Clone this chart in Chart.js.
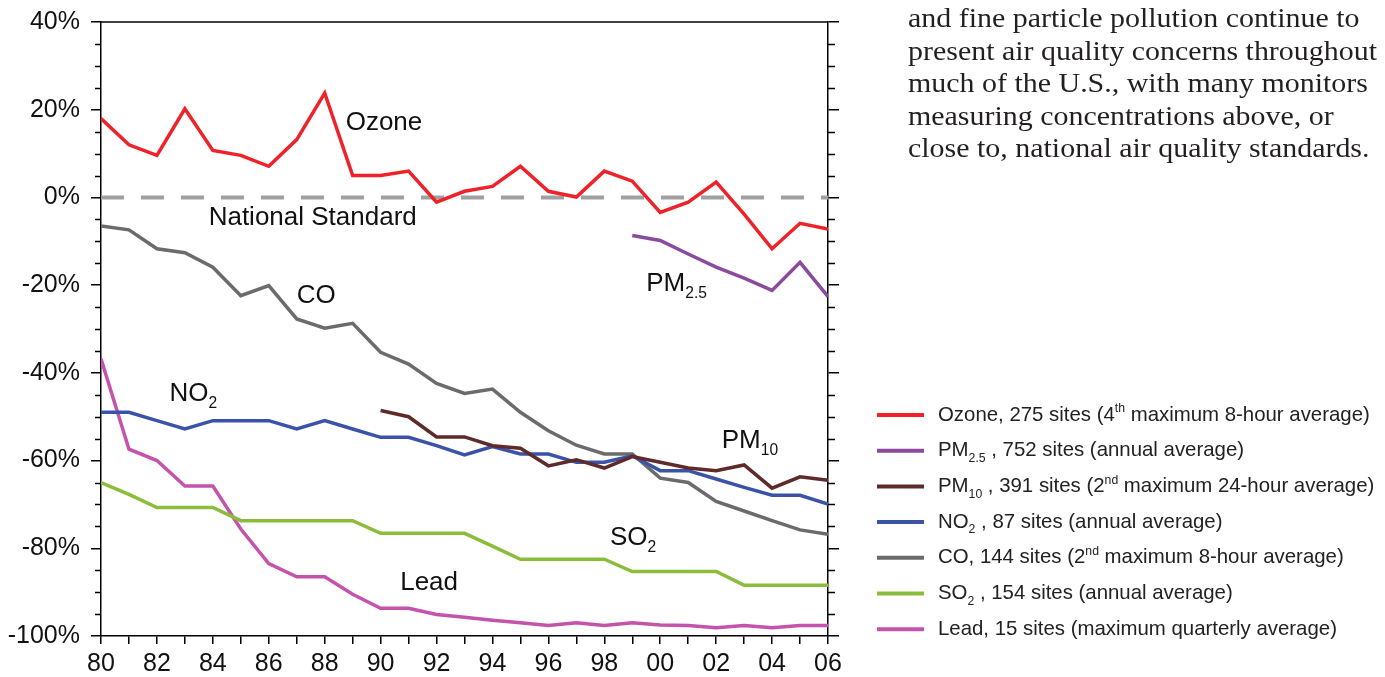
<!DOCTYPE html>
<html>
<head>
<meta charset="utf-8">
<script src="https://cdn.jsdelivr.net/npm/chart.js@4.4.1/dist/chart.umd.min.js"></script>
<style>
html, body { margin: 0; padding: 0; background: #fff; overflow: hidden; }
#wrap { position: relative; width: 1385px; height: 677px; }
#para { position: absolute; left: 908px; top: 2px; font-family: "Liberation Serif", serif; font-size: 27px; line-height: 32.5px; color: #231f20; white-space: nowrap; transform-origin: 0 0; }
</style>
</head>
<body>
<div id="wrap">
  <canvas id="airChart"></canvas>
  <div id="para">
    and fine particle pollution continue to<br>
    present air quality concerns throughout<br>
    much of the U.S., with many monitors<br>
    measuring concentrations above, or<br>
    close to, national air quality standards.
  </div>
</div>
<script>
// годы 1980-2006, значения в % относительно национального стандарта
const years = [1980, 1981, 1982, 1983, 1984, 1985, 1986, 1987, 1988, 1989, 1990, 1991, 1992, 1993,
               1994, 1995, 1996, 1997, 1998, 1999, 2000, 2001, 2002, 2003, 2004, 2005, 2006];

const ozone = [18.0, 12.0, 9.6, 20.2, 10.7, 9.6, 7.1, 13.2, 23.8, 5.0, 5.0, 6.0, -1.1, 1.4,
               2.5, 7.1, 1.4, 0.1, 6.0, 3.7, -3.4, -1.1, 3.5, -3.8, -11.7, -5.9, -7.2];
const pm25 = [null, null, null, null, null, null, null, null, null, null, null, null, null, null,
              null, null, null, null, null, -8.7, -9.8, -12.9, -15.9, -18.4, -21.2, -14.8, -22.6];
const pm10 = [null, null, null, null, null, null, null, null, null, null, -48.6, -50.0, -54.6, -54.6,
              -56.6, -57.2, -61.2, -59.8, -61.7, -59.1, -60.4, -61.7, -62.3, -61.0, -66.3, -63.7, -64.5];
const no2 = [-49.0, -49.0, -50.9, -52.8, -50.9, -50.9, -50.9, -52.8, -50.9, -52.8, -54.7, -54.7, -56.6, -58.7,
             -56.8, -58.5, -58.5, -60.4, -60.4, -58.9, -62.3, -62.3, -64.2, -66.1, -67.9, -67.9, -69.9];
const co = [-6.5, -7.4, -11.7, -12.6, -15.9, -22.4, -20.1, -27.7, -29.8, -28.7, -35.3, -38.0, -42.4, -44.7,
            -43.7, -49.0, -53.2, -56.5, -58.5, -58.5, -64.0, -65.0, -69.3, -71.5, -73.7, -75.8, -76.8];
const so2 = [-65.0, -67.7, -70.7, -70.7, -70.7, -73.7, -73.7, -73.7, -73.7, -73.7, -76.6, -76.6, -76.6, -76.6,
             -79.5, -82.5, -82.5, -82.5, -82.5, -85.3, -85.3, -85.3, -85.3, -88.4, -88.4, -88.4, -88.4];
const lead = [-36.8, -57.4, -60.0, -65.8, -65.8, -75.6, -83.5, -86.5, -86.5, -90.5, -93.7, -93.7, -95.1, -95.7,
              -96.4, -97.0, -97.6, -97.0, -97.6, -97.0, -97.5, -97.6, -98.1, -97.6, -98.1, -97.6, -97.6];
const standard = years.map(() => 0);

// подписи серий прямо на графике (год, значение)
const seriesLabels = [
    { parts: [{ t: 'Ozone' }], x: 1988.75, y: 16.9 },
    { parts: [{ t: 'National Standard' }], x: 1983.85, y: -4.6 },
    { parts: [{ t: 'CO' }], x: 1987.0, y: -22.4 },
    { parts: [{ t: 'PM' }, { t: '2.5', sub: true }], x: 1999.5, y: -19.6 },
    { parts: [{ t: 'NO' }, { t: '2', sub: true }], x: 1982.45, y: -44.7 },
    { parts: [{ t: 'PM' }, { t: '10', sub: true }], x: 2002.2, y: -55.5 },
    { parts: [{ t: 'SO' }, { t: '2', sub: true }], x: 1998.2, y: -77.6 },
    { parts: [{ t: 'Lead' }], x: 1990.7, y: -87.9 }
];

const legendItems = [
    [{ t: 'Ozone, 275 sites (4' }, { t: 'th', sup: true }, { t: ' maximum 8-hour average)' }],
    [{ t: 'PM' }, { t: '2.5', sub: true }, { t: ' , 752 sites (annual average)' }],
    [{ t: 'PM' }, { t: '10', sub: true }, { t: ' , 391 sites (2' }, { t: 'nd', sup: true }, { t: ' maximum 24-hour average)' }],
    [{ t: 'NO' }, { t: '2', sub: true }, { t: ' , 87 sites (annual average)' }],
    [{ t: 'CO, 144 sites (2' }, { t: 'nd', sup: true }, { t: ' maximum 8-hour average)' }],
    [{ t: 'SO' }, { t: '2', sub: true }, { t: ' , 154 sites (annual average)' }],
    [{ t: 'Lead, 15 sites (maximum quarterly average)' }]
];

const FONT = '"Liberation Sans", Arial, sans-serif';

function toPoints(values) {
    const pts = [];
    values.forEach((v, i) => {
        if (v !== null) pts.push({ x: years[i], y: v });
    });
    return pts;
}

function makeSeries(label, values, color) {
    return {
        label: label,
        data: toPoints(values),
        borderColor: color,
        backgroundColor: color,
        borderWidth: 3.5,
        pointRadius: 0,
        tension: 0,
        fill: false
    };
}

function drawRich(ctx, x, y, parts, size, color) {
    ctx.save();
    ctx.fillStyle = color;
    ctx.textBaseline = 'middle';
    ctx.textAlign = 'left';
    parts.forEach(p => {
        let s = size, dy = 0;
        if (p.sub) { s = size * 0.6; dy = size * 0.38; }
        if (p.sup) { s = size * 0.6; dy = -size * 0.3; }
        ctx.font = s + 'px ' + FONT;
        ctx.fillText(p.t, x, y + dy);
        x += ctx.measureText(p.t).width;
    });
    ctx.restore();
}

const decorPlugin = {
    id: 'decor',
    afterDraw(chart) {
        const ctx = chart.ctx;
        const area = chart.chartArea;
        const xs = chart.scales.x;
        const ys = chart.scales.y;

        ctx.save();
        ctx.strokeStyle = '#000';
        ctx.lineWidth = 1.5;
        // верхняя рамка
        ctx.beginPath();
        ctx.moveTo(area.left, area.top);
        ctx.lineTo(area.right, area.top);
        ctx.stroke();
        // малые деления через 5%
        for (let v = -100; v <= 40; v += 5) {
            if (v % 20 === 0) continue;
            const py = Math.round(ys.getPixelForValue(v)) + 0.5;
            ctx.beginPath();
            ctx.moveTo(area.left - 6, py);
            ctx.lineTo(area.left, py);
            ctx.moveTo(area.right, py);
            ctx.lineTo(area.right + 7, py);
            ctx.stroke();
        }
        ctx.restore();

        seriesLabels.forEach(l => {
            drawRich(ctx, xs.getPixelForValue(l.x), ys.getPixelForValue(l.y), l.parts, 26, '#111');
        });

        // легенда справа
        const sets = chart.data.datasets;
        legendItems.forEach((parts, i) => {
            const cy = 415 + i * 35.7;
            ctx.save();
            ctx.strokeStyle = sets[i].borderColor;
            ctx.lineWidth = 4;
            ctx.beginPath();
            ctx.moveTo(877, cy);
            ctx.lineTo(924, cy);
            ctx.stroke();
            ctx.restore();
            drawRich(ctx, 938, cy, parts, 20.4, '#222');
        });
    }
};

const ctx = document.getElementById('airChart').getContext('2d');
new Chart(ctx, {
    type: 'line',
    data: {
        datasets: [
            makeSeries('Ozone', ozone, '#ee2228'),
            makeSeries('PM2.5', pm25, '#8a4a9e'),
            makeSeries('PM10', pm10, '#5e2a2a'),
            makeSeries('NO2', no2, '#3a52a8'),
            makeSeries('CO', co, '#6b6b6b'),
            makeSeries('SO2', so2, '#8cbc3c'),
            makeSeries('Lead', lead, '#c453ac'),
            Object.assign(makeSeries('National Standard', standard, '#a0a0a0'), { borderDash: [23, 17], borderWidth: 4 })
        ]
    },
    options: {
        responsive: true,
        maintainAspectRatio: false,
        animation: false,
        layout: { padding: { left: 0, top: 22, right: 545, bottom: 0 } },
        plugins: {
            legend: { display: false },
            tooltip: { enabled: false }
        },
        scales: {
            x: {
                type: 'linear',
                min: 1980,
                max: 2006,
                afterFit: s => { s.height = 41; },
                ticks: {
                    stepSize: 1,
                    autoSkip: false,
                    maxRotation: 0,
                    padding: 5,
                    color: '#111',
                    font: { family: FONT, size: 25 },
                    callback: v => (v % 2 === 0 ? String(v % 100).padStart(2, '0') : '')
                },
                grid: { drawOnChartArea: false, tickLength: 8, color: '#000', lineWidth: 1.5 },
                border: { color: '#000', width: 1.5 }
            },
            y: {
                min: -100,
                max: 40,
                afterFit: s => { s.width = 101; s.paddingTop = 0; s.paddingBottom = 0; },
                ticks: {
                    stepSize: 20,
                    padding: 11,
                    color: '#111',
                    font: { family: FONT, size: 25 },
                    callback: v => v + '%'
                },
                grid: { drawOnChartArea: false, tickLength: 10, color: '#000', lineWidth: 1.5 },
                border: { color: '#000', width: 1.5 }
            },
            y2: {
                position: 'right',
                min: -100,
                max: 40,
                afterFit: s => { s.width = 12; s.paddingTop = 0; s.paddingBottom = 0; },
                ticks: { stepSize: 20, display: false },
                grid: { drawOnChartArea: false, tickLength: 11, color: '#000', lineWidth: 1.5 },
                border: { color: '#000', width: 1.5 }
            }
        }
    },
    plugins: [decorPlugin]
});

// подгоняем ширину абзаца под исходную
const para = document.getElementById('para');
const scale = 469 / para.scrollWidth;
para.style.transform = 'scaleX(' + scale.toFixed(3) + ')';
</script>
</body>
</html>
